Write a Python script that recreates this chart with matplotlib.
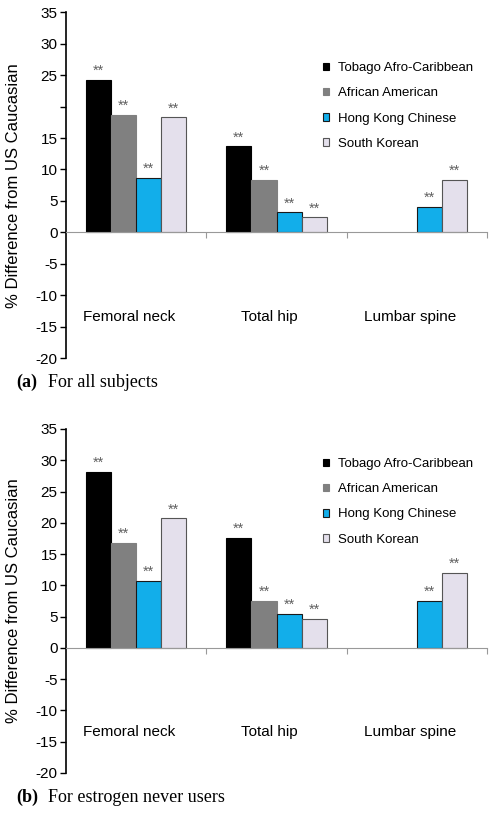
import numpy as np
import matplotlib
matplotlib.use('Agg')
import matplotlib.pyplot as plt

plt.rcParams['font.family'] = ['Liberation Sans', 'DejaVu Sans']

# data
sites = ['Femoral neck', 'Total hip', 'Lumbar spine']
groups = ['Tobago Afro-Caribbean', 'African American', 'Hong Kong Chinese', 'South Korean']

# (a) all subjects
all_tobago = [24.3, 13.7, np.nan]
all_afram = [18.7, 8.4, np.nan]
all_hk = [8.7, 3.2, 4.1]
all_korea = [18.3, 2.4, 8.4]

# (b) estrogen never users
nev_tobago = [28.1, 17.6, np.nan]
nev_afram = [16.8, 7.5, np.nan]
nev_hk = [10.7, 5.4, 7.5]
nev_korea = [20.7, 4.6, 12.0]

yticks = [35, 30, 25, 20, 15, 10, 5, 0, -5, -10, -15, -20]
yticklabels_a = ['35', '30', '25', '', '15', '10', '5', '0', '-5', '-10', '-15', '-20']
yticklabels_b = [str(v) for v in yticks]

colors = ['#000000', '#808080', '#12AEEA', '#E4E0EC']
edges = ['#000000', '#808080', '#1a1a1a', '#555555']

fig = plt.figure(figsize=(4.93, 8.14), dpi=100)
ax1 = fig.add_axes([0.134, 0.560, 0.854, 0.425])
ax2 = fig.add_axes([0.134, 0.0504, 0.854, 0.4226])

w = 0.179
x = np.arange(len(sites))


def draw(ax, series, ylabels, leg_y, caption_bold, caption_text, cap_y):
    for k, vals in enumerate(series):
        pos = x + (k - 1.5) * w
        ax.bar(pos, vals, width=w, color=colors[k], edgecolor=edges[k],
               linewidth=0.8, label=groups[k])
        for p, v in zip(pos, vals):
            if not np.isnan(v):
                ax.text(p, v + 0.3, '**', ha='center', va='bottom',
                        fontsize=10.5, color='#606060')
    ax.set_xlim(-0.5, 2.5)
    ax.set_ylim(-20, 35)
    ax.set_yticks(yticks)
    ax.set_yticklabels(ylabels, fontsize=11)
    ax.tick_params(axis='y', direction='out', length=4, width=1, pad=2)
    ax.set_xticks([0.5, 1.5, 2.5])
    ax.set_xticklabels([])
    ax.tick_params(axis='x', direction='out', length=4, width=0.8, color='#999999')
    for s in ['top', 'right']:
        ax.spines[s].set_visible(False)
    ax.spines['bottom'].set_position(('data', 0))
    ax.spines['bottom'].set_color('#999999')
    ax.spines['left'].set_linewidth(1.2)
    for i, s in enumerate(sites):
        ax.text(i - 0.05, -13.4, s, ha='center', va='center', fontsize=11)
    ax.set_ylabel('% Difference from US Caucasian', fontsize=12)
    ax.yaxis.set_label_coords(-0.107, 0.5)
    ax.legend(loc='upper left', bbox_to_anchor=(0.581, leg_y), frameon=False,
              fontsize=9.5, handlelength=0.5, handleheight=0.5,
              handletextpad=0.65, labelspacing=1.0)
    fig.text(0.033, cap_y, caption_bold, fontsize=13, fontweight='bold',
             family='Liberation Serif', va='center')
    fig.text(0.097, cap_y, caption_text, fontsize=13,
             family='Liberation Serif', va='center')


draw(ax1, [all_tobago, all_afram, all_hk, all_korea], yticklabels_a, 0.89,
     '(a)', 'For all subjects', 1 - 382 / 814)
draw(ax2, [nev_tobago, nev_afram, nev_hk, nev_korea], yticklabels_b, 0.95,
     '(b)', 'For estrogen never users', 1 - 797 / 814)

fig.savefig('out.png', dpi=100)
